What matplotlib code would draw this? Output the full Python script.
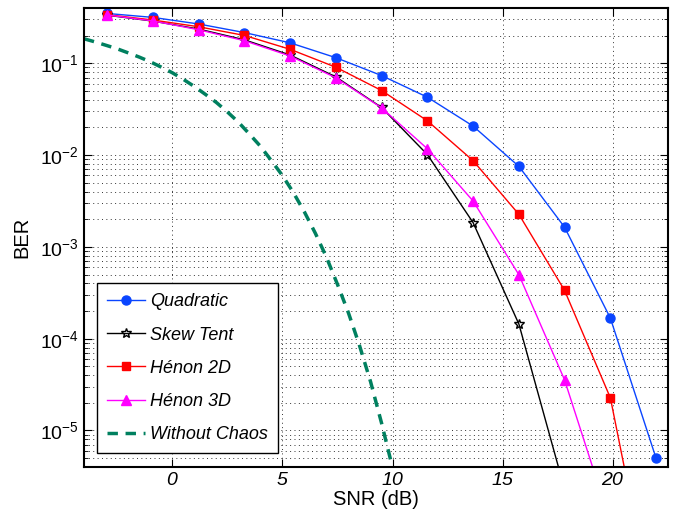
import matplotlib
matplotlib.use("Agg")
import matplotlib.pyplot as plt
from matplotlib.ticker import LogLocator, NullFormatter, FixedLocator

plt.rcParams['font.family'] = ['Liberation Sans', 'DejaVu Sans']
plt.rcParams['mathtext.fontset'] = 'custom'
for k in ('rm', 'it', 'bf', 'sf'):
    plt.rcParams['mathtext.' + k] = 'Liberation Sans:italic'

# SNR points (dB) of the simulated curves
snr = [-2.95, -0.87, 1.2, 3.28, 5.35, 7.43, 9.5, 11.58, 13.65, 15.73, 17.8, 19.88, 21.95]

ber_quad = [0.349, 0.316, 0.268, 0.216, 0.167, 0.115, 0.0735, 0.0427, 0.0207,
            0.00753, 0.00164, 1.67e-4, 5.0e-6]
ber_tent = [0.334, 0.288, 0.236, 0.180, 0.123, 0.071, 0.033, 0.0101, 0.00184,
            1.44e-4, 2.3e-6]
ber_h2d = [0.338, 0.296, 0.25, 0.201, 0.142, 0.0905, 0.0505, 0.0236, 0.00869,
           0.00226, 3.36e-4, 2.26e-5, 7.5e-8]
ber_h3d = [0.336, 0.289, 0.232, 0.176, 0.120, 0.0694, 0.0327, 0.0117, 0.00316,
           4.97e-4, 3.56e-5, 1.0e-6]

# reference curve without chaos
snr_ref = [-4, -3.5, -3, -2.5, -2, -1.5, -1, -0.5, 0, 0.5, 1, 1.5, 2, 2.5, 3, 3.5,
           4, 4.5, 5, 5.5, 6, 6.5, 7, 7.5, 8, 8.5, 9, 9.5, 10]
ber_ref = [0.185, 0.171, 0.157, 0.144, 0.130, 0.117, 0.104, 0.091, 0.079, 0.067,
           0.056, 0.046, 0.0375, 0.0296, 0.0229, 0.0170, 0.0125, 0.0087, 0.0060,
           0.0039, 0.0024, 0.00140, 7.7e-4, 3.9e-4, 1.9e-4, 8.4e-5, 3.4e-5,
           1.2e-5, 3.9e-6]

fig = plt.figure(figsize=(6.73, 5.17), dpi=100)
ax = fig.add_axes([0.1248, 0.0967, 0.868, 0.8878])

ax.semilogy(snr, ber_quad, '-o', color='#0a45ff', lw=1, ms=6.5, label='Quadratic')
ax.semilogy(snr[:len(ber_tent)], ber_tent, '-*', color='black', lw=1, ms=7,
            mfc='none', mec='black', label='Skew Tent')
ax.semilogy(snr, ber_h2d, '-s', color='#ff0000', lw=1, ms=5.5, label=u'Hénon 2D')
ax.semilogy(snr[:len(ber_h3d)], ber_h3d, '-^', color='#ff00ff', lw=1, ms=6.5,
            label=u'Hénon 3D')
ax.semilogy(snr_ref, ber_ref, '--', color='#00805f', lw=2.5, dashes=(3, 2.2),
            label='Without Chaos')

ax.set_xlim(-4, 22.5)
ax.set_ylim(4e-6, 0.4)
ax.xaxis.set_major_locator(FixedLocator([0, 5, 10, 15, 20]))
ax.set_xticklabels(['$0$', '$5$', '$10$', '$15$', '$20$'])
ax.yaxis.set_major_locator(LogLocator(base=10, numticks=20))
ax.yaxis.set_minor_locator(LogLocator(base=10, subs=range(2, 10), numticks=20))
ax.yaxis.set_minor_formatter(NullFormatter())

grid_kw = dict(ls=(0, (1, 3.5)), color='#333333', lw=0.7)
ax.grid(True, which='major', axis='x', **grid_kw)
ax.grid(True, which='both', axis='y', **grid_kw)
ax.tick_params(which='both', direction='in', top=True, right=True, labelsize=14)
ax.tick_params(which='major', length=6)
ax.tick_params(which='minor', length=3)
for s in ax.spines.values():
    s.set_linewidth(1.5)

ax.set_xlabel('SNR (dB)', fontsize=14.5, labelpad=1)
ax.set_ylabel('BER', fontsize=14.5, labelpad=6)

leg = ax.legend(loc='lower left', bbox_to_anchor=(0.022, 0.03), fontsize=13,
                fancybox=False, framealpha=1, edgecolor='black',
                handlelength=2.1, labelspacing=0.9, borderpad=0.55,
                handletextpad=0.3, borderaxespad=0)
leg.get_frame().set_linewidth(1)
for t in leg.get_texts():
    t.set_fontstyle('italic')

fig.savefig('out.png', dpi=100)
